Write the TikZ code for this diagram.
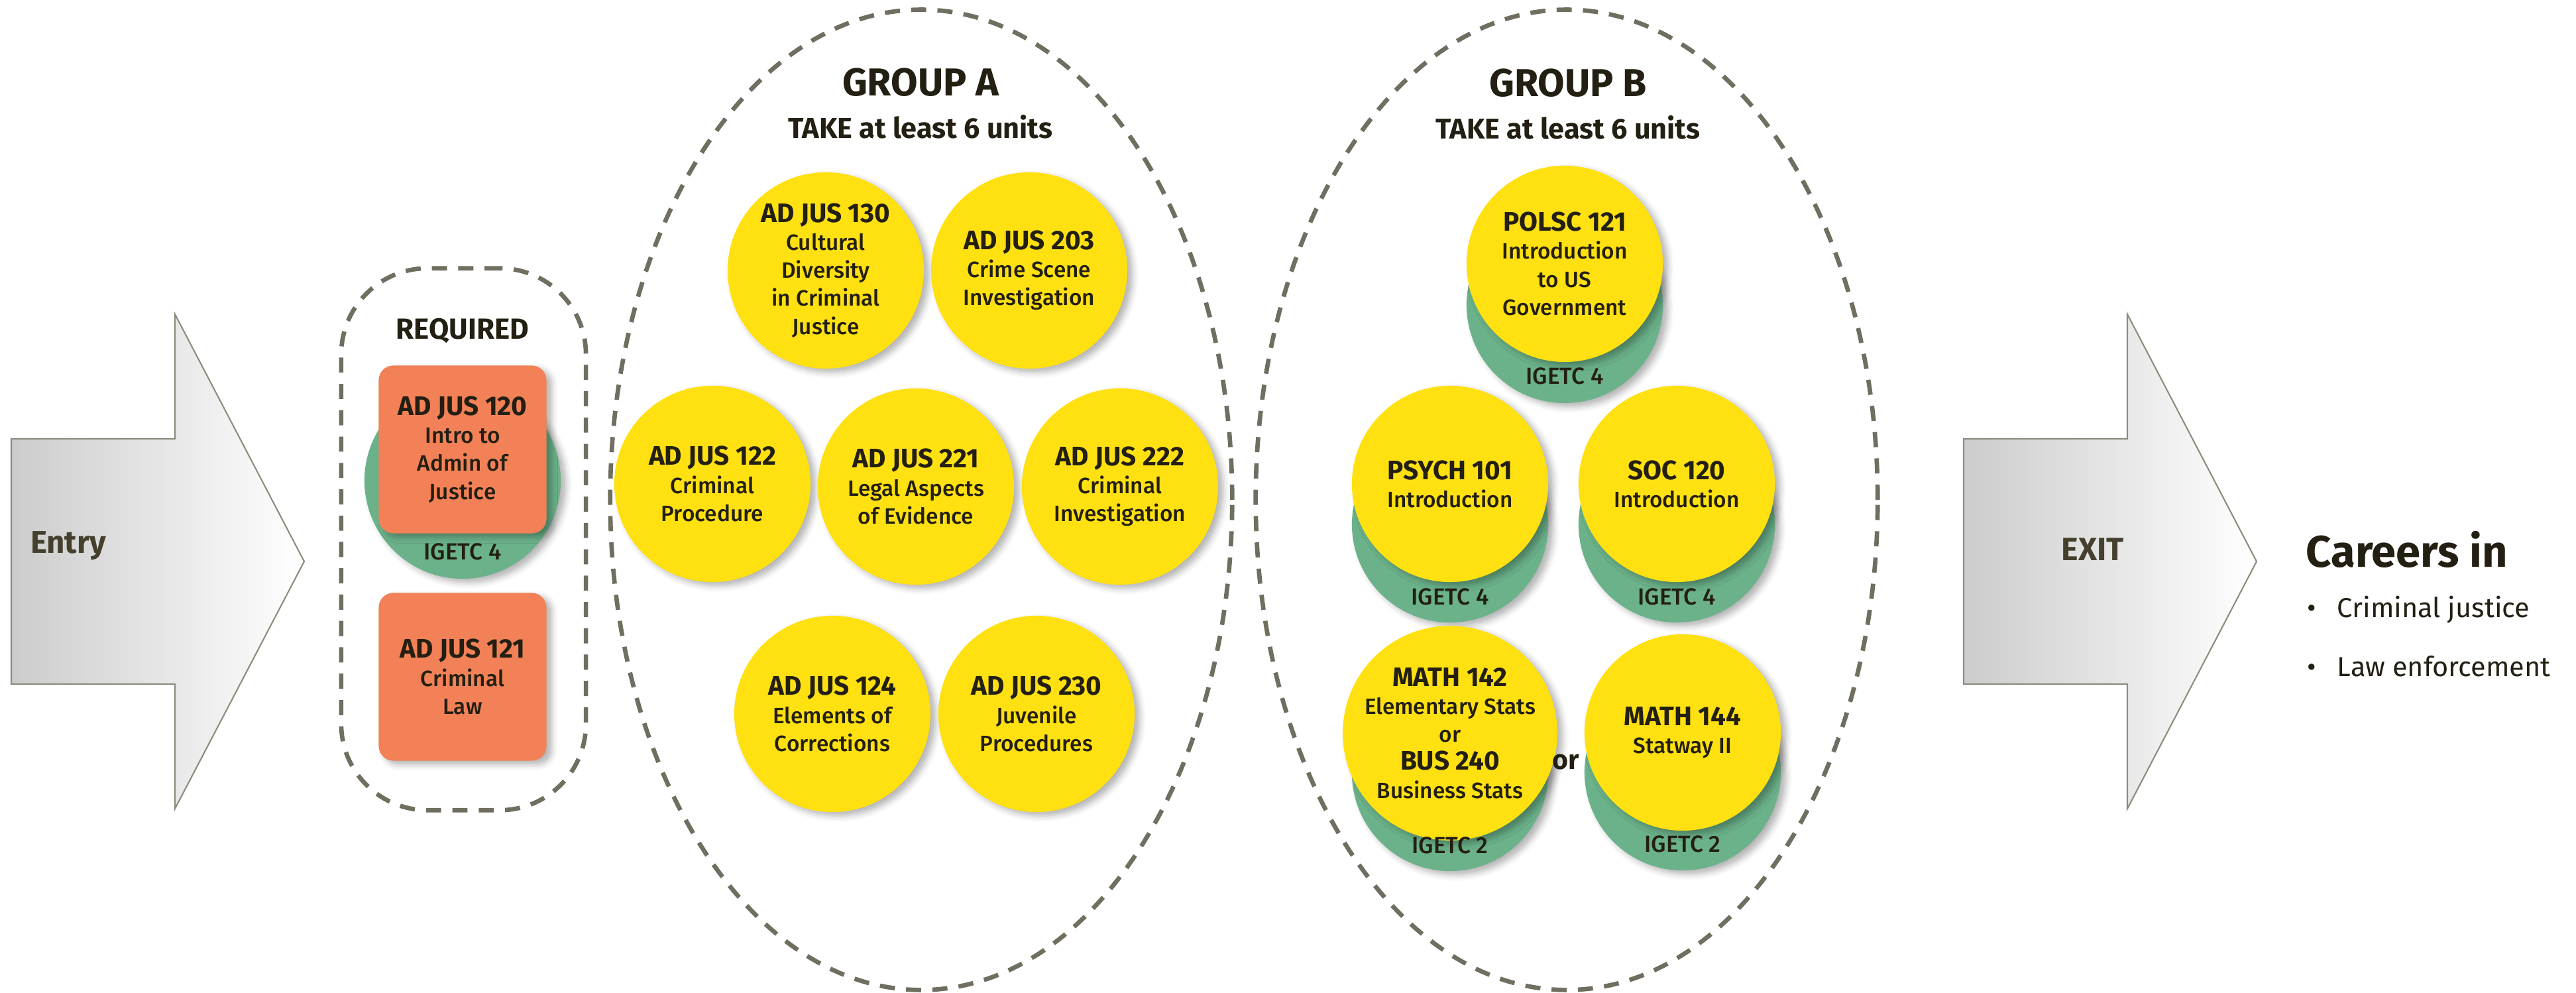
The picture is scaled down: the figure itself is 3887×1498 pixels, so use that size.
\documentclass[tikz,border=0pt]{standalone}
\usepackage{fontspec}
\setmainfont{Fira Sans}
\newfontfamily\medfont{Fira Sans Medium}
\usetikzlibrary{shapes.geometric,shadows.blur}

\definecolor{discyellow}{HTML}{FFE011}
\definecolor{igetcgreen}{HTML}{6BB28A}
\definecolor{reqorange}{HTML}{F28157}
\definecolor{fencegray}{HTML}{706E60}
\definecolor{arrowline}{HTML}{8C8C7E}
\definecolor{arrowtext}{HTML}{45402E}
\definecolor{ink}{HTML}{231F12}

\newcommand{\ccode}[1]{{\rmfamily\fontsize{11.5}{12}\selectfont\bfseries #1}}

\begin{document}
\begin{tikzpicture}[x=0.01cm,y=-0.01cm]
        \tikzstyle{every node}=[text=ink,align=center,inner sep=0pt,font=\fontsize{9.5}{12}\medfont]
        \tikzstyle{disc}=[circle,fill=discyellow,minimum size=2.96cm,blur shadow={shadow xshift=2.2pt,shadow yshift=-1.6pt,shadow blur radius=2.6pt,shadow opacity=30}]
        \tikzstyle{igetc disc}=[disc,fill=igetcgreen]
        \tikzstyle{igetc}=[font=\fontsize{10}{12}\medfont]
        \tikzstyle{reqbox}=[disc,rectangle,rounded corners=0.22cm,fill=reqorange,minimum size=2.53cm]
        \tikzstyle{fence}=[draw=fencegray,line width=1.9pt,dash pattern=on 6.5pt off 4.8pt]
        \tikzstyle{bigarrow}=[draw=arrowline,line width=0.6pt,left color=gray!40,right color=white]
        \useasboundingbox (0,0) rectangle (3887,1498);

        % entry and exit
        \draw[bigarrow] (17,662) -- (264,662) -- (264,474) -- (459,847) -- (264,1220) -- (264,1032) -- (17,1032) -- cycle;
        \draw[bigarrow] (2963,662) -- (3210,662) -- (3210,474) -- (3405,847) -- (3210,1220) -- (3210,1032) -- (2963,1032) -- cycle;
        \node[font=\fontsize{13.5}{16}\bfseries,text=arrowtext] (entry) at (103,823) {Entry};
        \node[font=\fontsize{13.8}{16}\bfseries,text=arrowtext] (exit) at (3158,829) {EXIT};

        % required
        \node[fence,rounded corners=1.3cm,minimum width=3.69cm,minimum height=8.17cm] (required) at (699.5,813.5) {};
        \node[font=\fontsize{12.5}{15}\bfseries] (reqtitle) at (698,499) {REQUIRED};
        \node[igetc disc] (g120) at (698,725) {};
        \node[reqbox] (adj120) at (698,678) {\ccode{AD JUS 120}\\Intro to\\Admin of\\Justice};
        \node[reqbox] (adj121) at (698,1021) {\ccode{AD JUS 121}\\Criminal\\Law};
        \node[igetc] (i120) at (698,832) {IGETC 4};

        % group A
        \node[fence,ellipse,minimum width=9.38cm,minimum height=14.78cm] (groupA) at (1390,754) {};
        \node[font=\fontsize{16.7}{20}\bfseries] (titleA) at (1389,124) {GROUP A};
        \node[font=\fontsize{12.3}{15}\bfseries] (takeA) at (1389,191) {TAKE at least 6 units};
        \node[disc] (adj130) at (1246,408) {\ccode{AD JUS 130}\\Cultural\\Diversity\\in Criminal\\Justice};
        \node[disc] (adj203) at (1553,408) {\ccode{AD JUS 203}\\Crime Scene\\Investigation};
        \node[disc] (adj122) at (1075,730) {\ccode{AD JUS 122}\\Criminal\\Procedure};
        \node[disc] (adj221) at (1382,734) {\ccode{AD JUS 221}\\Legal Aspects\\of Evidence};
        \node[disc] (adj222) at (1690,734) {\ccode{AD JUS 222}\\Criminal\\Investigation};
        \node[disc] (adj124) at (1256,1077) {\ccode{AD JUS 124}\\Elements of\\Corrections};
        \node[disc] (adj230) at (1564,1077) {\ccode{AD JUS 230}\\Juvenile\\Procedures};

        % group B
        \node[fence,ellipse,minimum width=9.38cm,minimum height=14.78cm] (groupB) at (2364,754) {};
        \node[font=\fontsize{16.7}{20}\bfseries] (titleB) at (2366,125) {GROUP B};
        \node[font=\fontsize{12.3}{15}\bfseries] (takeB) at (2366,192) {TAKE at least 6 units};
        \node[igetc disc] (g121) at (2361,460) {};
        \node[igetc disc] (g101) at (2188,791) {};
        \node[igetc disc] (gsoc) at (2530,791) {};
        \node[igetc disc] (g142) at (2188,1166) {};
        \node[igetc disc] (g144) at (2539,1165) {};
        \node[disc] (polsc121) at (2361,398) {\ccode{POLSC 121}\\Introduction\\to US\\Government};
        \node[disc] (psych101) at (2188,730) {\ccode{PSYCH 101}\\Introduction};
        \node[disc] (soc120) at (2530,730) {\ccode{SOC 120}\\Introduction};
        \node[disc] (math142) at (2188,1106) {\ccode{MATH 142}\\Elementary Stats\\or\\\ccode{BUS 240}\\Business Stats};
        \node[disc] (math144) at (2539,1105) {\ccode{MATH 144}\\Statway II};
        \node[igetc] (i121) at (2361,567) {IGETC 4};
        \node[igetc] (i101) at (2188,900) {IGETC 4};
        \node[igetc] (isoc) at (2530,900) {IGETC 4};
        \node[igetc] (i142) at (2188,1275) {IGETC 2};
        \node[igetc] (i144) at (2539,1273) {IGETC 2};
        \node[font=\fontsize{11.7}{14}\bfseries] (orstat) at (2363,1150) {or};

        % careers
        \node[anchor=west,font=\fontsize{19}{22}\bfseries] (careers) at (3479,829) {Careers in};
        \node[anchor=west,font=\fontsize{11.8}{14}\selectfont] (cj) at (3481,920) {\makebox[12.8pt][l]{•}Criminal justice};
        \node[anchor=west,font=\fontsize{11.8}{14}\selectfont] (le) at (3481,1005) {\makebox[12.8pt][l]{•}Law enforcement};
\end{tikzpicture}
\end{document}
